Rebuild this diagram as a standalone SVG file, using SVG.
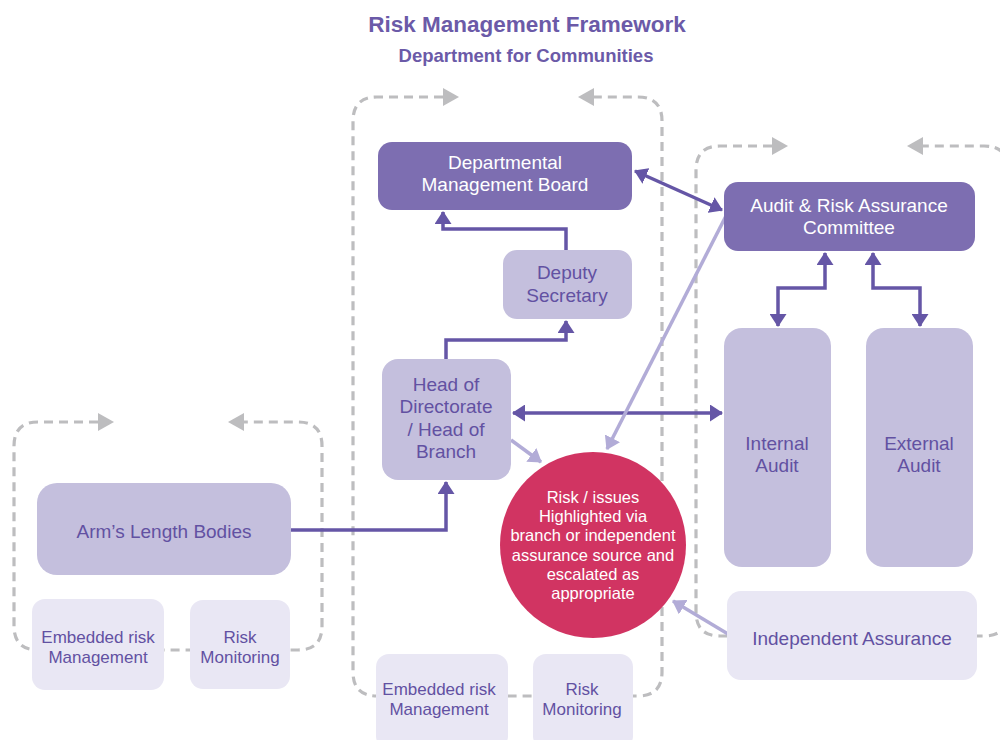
<svg xmlns="http://www.w3.org/2000/svg" width="1000" height="740" viewBox="0 0 1000 740">
  <style>
    .loop { fill: none; stroke: #bdbdbf; stroke-width: 3.2; stroke-dasharray: 9 6; }
    .loophead { fill: #bdbdbf; }
    .dark { fill: #7d6eb1; }
    .mid { fill: #c4bfdd; }
    .pale { fill: #e9e7f4; }
    .risk { fill: #d13462; }
    .t { font-family: "Liberation Sans", Arial, sans-serif; text-anchor: middle; }
    .tw { fill: #ffffff; font-size: 19px; }
    .tp { fill: #6251a2; font-size: 19px; }
    .ts { fill: #6251a2; font-size: 17px; }
    .tc { fill: #ffffff; font-size: 16.5px; }
    .title { fill: #6b5aa8; font-weight: bold; }
    .link { fill: none; stroke: #6556a6; stroke-width: 3.5; }
    .soft { fill: none; stroke: #b2acd7; stroke-width: 3.5; }
  </style>
  <defs>
    <marker id="arrow" viewBox="0 0 13 17" refX="12" refY="8.5" markerWidth="13" markerHeight="17" markerUnits="userSpaceOnUse" orient="auto-start-reverse">
      <path d="M0,0 L13,8.5 L0,17 z" fill="#6556a6"/>
    </marker>
    <marker id="arrowSoft" viewBox="0 0 13 17" refX="12" refY="8.5" markerWidth="13" markerHeight="17" markerUnits="userSpaceOnUse" orient="auto-start-reverse">
      <path d="M0,0 L13,8.5 L0,17 z" fill="#b2acd7"/>
    </marker>
  </defs>

  <!-- Title -->
  <text class="t title" x="527" y="32" font-size="22.5">Risk Management Framework</text>
  <text class="t title" x="526" y="62" font-size="18.5">Department for Communities</text>

  <!-- Dashed feedback loops -->
  <g id="loops">
    <path class="loop" d="M 98 422 H 38 Q 14 422 14 446 V 626 Q 14 650 38 650 H 298 Q 322 650 322 626 V 446 Q 322 422 298 422 H 244"/>
    <polygon class="loophead" points="98,413 114,422 98,431"/>
    <polygon class="loophead" points="244,413 228,422 244,431"/>

    <path class="loop" d="M 443 97 H 377 Q 353 97 353 121 V 672 Q 353 696 377 696 H 638 Q 662 696 662 672 V 121 Q 662 97 638 97 H 594"/>
    <polygon class="loophead" points="443,88 459,97 443,106"/>
    <polygon class="loophead" points="594,88 578,97 594,106"/>

    <path class="loop" d="M 772 146 H 720 Q 696 146 696 170 V 612 Q 696 636 720 636 H 984 Q 1008 636 1008 612 V 170 Q 1008 146 984 146 H 923"/>
    <polygon class="loophead" points="772,137 788,146 772,155"/>
    <polygon class="loophead" points="923,137 907,146 923,155"/>
  </g>

  <!-- Connectors -->
  <g id="connectors">
    <path class="link" d="M 291 530 H 446 V 482" marker-end="url(#arrow)"/>
    <path class="link" d="M 446 359 V 340 H 566 V 321" marker-end="url(#arrow)"/>
    <path class="link" d="M 566 250 V 229 H 443 V 212" marker-end="url(#arrow)"/>
    <path class="link" d="M 635 171 L 722 210" marker-start="url(#arrow)" marker-end="url(#arrow)"/>
    <path class="link" d="M 513 413 H 722" marker-start="url(#arrow)" marker-end="url(#arrow)"/>
    <path class="link" d="M 825 253 V 288 H 778 V 326" marker-start="url(#arrow)" marker-end="url(#arrow)"/>
    <path class="link" d="M 873 253 V 288 H 920 V 326" marker-start="url(#arrow)" marker-end="url(#arrow)"/>
    <path class="soft" d="M 728 212 L 607 449" marker-end="url(#arrowSoft)"/>
    <path class="soft" d="M 511 440 L 541 462" marker-end="url(#arrowSoft)"/>
    <path class="soft" d="M 728 634 L 673 601" marker-end="url(#arrowSoft)"/>
  </g>

  <!-- Arm's length bodies -->
  <g id="alb">
    <rect class="mid" x="37" y="483" width="254" height="92" rx="20"/>
    <text class="t tp" x="164" y="538" font-size="19.5">Arm’s Length Bodies</text>
  </g>
  <g id="alb-embedded">
    <rect class="pale" x="32" y="599" width="132" height="91" rx="13"/>
    <text class="t ts" x="98" y="643">Embedded risk</text>
    <text class="t ts" x="98" y="663">Management</text>
  </g>
  <g id="alb-monitoring">
    <rect class="pale" x="190" y="600" width="100" height="89" rx="13"/>
    <text class="t ts" x="240" y="643">Risk</text>
    <text class="t ts" x="240" y="663">Monitoring</text>
  </g>

  <!-- Department -->
  <g id="dmb">
    <rect class="dark" x="378" y="142" width="254" height="68" rx="14"/>
    <text class="t tw" x="505" y="169">Departmental</text>
    <text class="t tw" x="505" y="191">Management Board</text>
  </g>
  <g id="deputy">
    <rect class="mid" x="503" y="250" width="129" height="69" rx="14"/>
    <text class="t tp" x="567" y="279">Deputy</text>
    <text class="t tp" x="567" y="302">Secretary</text>
  </g>
  <g id="head">
    <rect class="mid" x="382" y="359" width="129" height="121" rx="16"/>
    <text class="t tp" x="446" y="391">Head of</text>
    <text class="t tp" x="446" y="413">Directorate</text>
    <text class="t tp" x="446" y="436">/ Head of</text>
    <text class="t tp" x="446" y="458">Branch</text>
  </g>
  <g id="dept-embedded">
    <rect class="pale" x="376" y="654" width="132" height="95" rx="13"/>
    <text class="t ts" x="439" y="695">Embedded risk</text>
    <text class="t ts" x="439" y="715">Management</text>
  </g>
  <g id="dept-monitoring">
    <rect class="pale" x="533" y="654" width="100" height="95" rx="13"/>
    <text class="t ts" x="582" y="695">Risk</text>
    <text class="t ts" x="582" y="715">Monitoring</text>
  </g>

  <!-- Escalation point -->
  <g id="risk-issues">
    <circle class="risk" cx="593" cy="545" r="93"/>
    <text class="t tc" x="593" y="503">Risk / issues</text>
    <text class="t tc" x="593" y="522">Highlighted via</text>
    <text class="t tc" x="593" y="541">branch or independent</text>
    <text class="t tc" x="593" y="561">assurance source and</text>
    <text class="t tc" x="593" y="580">escalated as</text>
    <text class="t tc" x="593" y="599">appropriate</text>
  </g>

  <!-- Assurance -->
  <g id="arac">
    <rect class="dark" x="724" y="182" width="251" height="69" rx="14"/>
    <text class="t tw" x="849" y="212">Audit &amp; Risk Assurance</text>
    <text class="t tw" x="849" y="234">Committee</text>
  </g>
  <g id="internal-audit">
    <rect class="mid" x="724" y="328" width="107" height="239" rx="18"/>
    <text class="t tp" x="777" y="450">Internal</text>
    <text class="t tp" x="777" y="472">Audit</text>
  </g>
  <g id="external-audit">
    <rect class="mid" x="866" y="328" width="107" height="239" rx="18"/>
    <text class="t tp" x="919" y="450">External</text>
    <text class="t tp" x="919" y="472">Audit</text>
  </g>
  <g id="independent-assurance">
    <rect class="pale" x="727" y="591" width="250" height="89" rx="14"/>
    <text class="t tp" x="852" y="645" font-size="20">Independent Assurance</text>
  </g>
</svg>
